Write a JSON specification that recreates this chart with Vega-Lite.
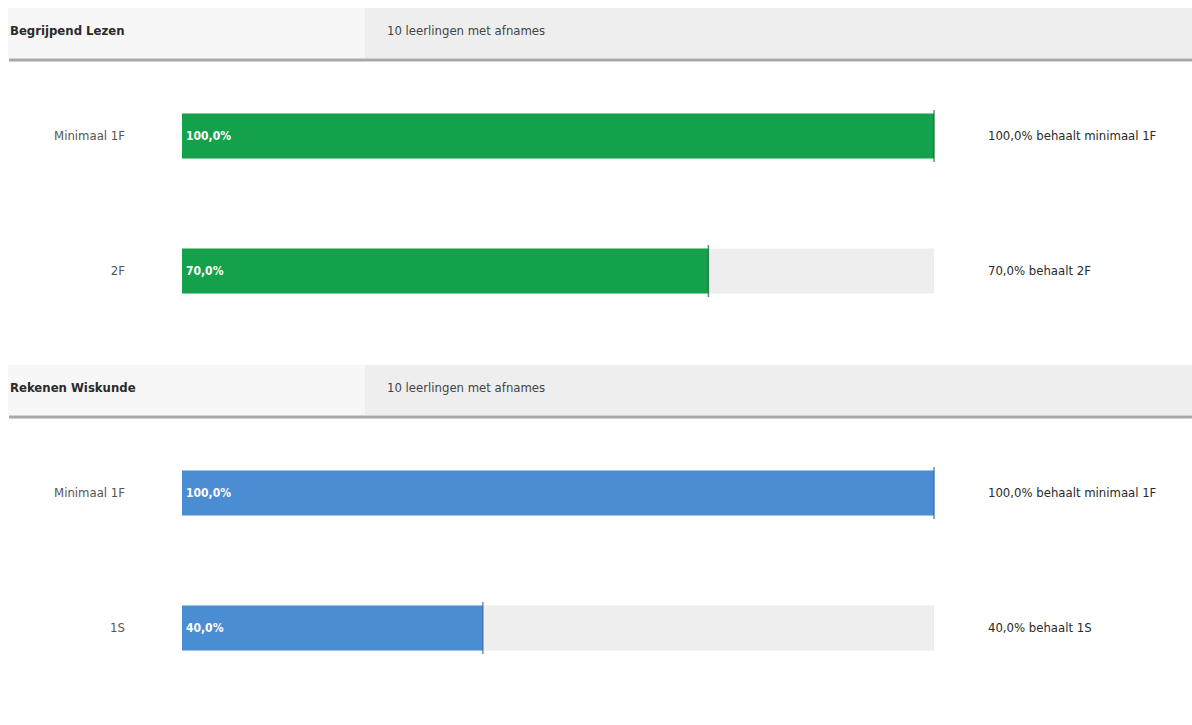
{
  "$schema": "https://vega.github.io/schema/vega-lite/v6.json",
  "autosize": {"type": "pad"},
  "padding": {"top": 8, "left": 0, "right": 0, "bottom": 0},
  "background": "#ffffff",
  "bounds": "flush",
  "spacing": 0,
  "resolve": {"scale": {"x": "independent", "y": "independent"}},
  "config": {
    "view": {"stroke": null},
    "font": "DejaVu Sans Condensed",
    "text": {"font": "DejaVu Sans Condensed"}
  },
  "vconcat": [
    {
      "width": 1192,
      "height": 50,
      "data": {"values": [{"section": "Begrijpend Lezen", "info": "10 leerlingen met afnames"}]},
      "encoding": {
        "y": {"field": "section", "type": "nominal", "axis": null, "scale": {"paddingInner": 0, "paddingOuter": 0}}
      },
      "layer": [
        {"mark": {"type": "rect", "color": "#f7f7f7"}, "encoding": {"x": {"datum": -23.14, "type": "quantitative", "scale": {"domain": [-24.2, 134.3], "nice": false, "zero": false}, "axis": null}, "x2": {"datum": 24.33}}},
        {"mark": {"type": "rect", "color": "#eeeeee"}, "encoding": {"x": {"datum": 24.33, "type": "quantitative"}, "x2": {"datum": 134.3}}},
        {"mark": {"type": "rule", "color": "#a8a8a8", "strokeWidth": 3, "yOffset": 2}, "encoding": {"x": {"datum": -23.0, "type": "quantitative"}, "x2": {"datum": 134.3}, "y": {"field": "section", "type": "nominal", "bandPosition": 1}}},
        {"mark": {"type": "text", "align": "left", "fontSize": 13, "fontWeight": "bold", "color": "#2a2a2a", "dy": -2}, "encoding": {"x": {"datum": -22.87, "type": "quantitative"}, "text": {"field": "section"}}},
        {"mark": {"type": "text", "align": "left", "fontSize": 13, "color": "#444444", "dy": -2}, "encoding": {"x": {"datum": 27.26, "type": "quantitative"}, "text": {"field": "info"}}}
      ]
    },
    {
      "width": 1192,
      "height": 307,
      "data": {"values": [
        {"level": "Minimaal 1F", "pct": 100, "label": "100,0%", "result": "100,0% behaalt minimaal 1F"},
        {"level": "2F", "pct": 70, "label": "70,0%", "result": "70,0% behaalt 2F"}
      ]},
      "encoding": {
        "y": {"field": "level", "type": "nominal", "axis": null, "sort": null,
              "scale": {"domain": ["Minimaal 1F", "2F"], "paddingInner": 0.6667, "paddingOuter": 0.4704, "align": 0.437}}
      },
      "layer": [
        {"mark": {"type": "bar", "color": "#eeeeee"}, "encoding": {"x": {"datum": 0, "type": "quantitative", "scale": {"domain": [-24.2, 134.3], "nice": false, "zero": false}, "axis": null}, "x2": {"datum": 100}}},
        {"mark": {"type": "bar", "color": "#14a14b"}, "encoding": {"x": {"field": "pct", "type": "quantitative"}, "x2": {"datum": 0}}},
        {"mark": {"type": "tick", "color": "#0d6a32", "thickness": 1.5, "size": 52, "orient": "vertical"}, "encoding": {"x": {"field": "pct", "type": "quantitative"}}},
        {"mark": {"type": "text", "align": "left", "dx": 4, "fontSize": 12, "fontWeight": "bold", "color": "#ffffff"}, "encoding": {"x": {"datum": 0, "type": "quantitative"}, "text": {"field": "label"}}},
        {"mark": {"type": "text", "align": "right", "fontSize": 13, "color": "#555555"}, "encoding": {"x": {"datum": -7.58, "type": "quantitative"}, "text": {"field": "level"}}},
        {"mark": {"type": "text", "align": "left", "fontSize": 13, "color": "#2a2a2a"}, "encoding": {"x": {"datum": 107.17, "type": "quantitative"}, "text": {"field": "result"}}}
      ]
    },
    {
      "width": 1192,
      "height": 50,
      "data": {"values": [{"section": "Rekenen Wiskunde", "info": "10 leerlingen met afnames"}]},
      "encoding": {
        "y": {"field": "section", "type": "nominal", "axis": null, "scale": {"paddingInner": 0, "paddingOuter": 0}}
      },
      "layer": [
        {"mark": {"type": "rect", "color": "#f7f7f7"}, "encoding": {"x": {"datum": -23.14, "type": "quantitative", "scale": {"domain": [-24.2, 134.3], "nice": false, "zero": false}, "axis": null}, "x2": {"datum": 24.33}}},
        {"mark": {"type": "rect", "color": "#eeeeee"}, "encoding": {"x": {"datum": 24.33, "type": "quantitative"}, "x2": {"datum": 134.3}}},
        {"mark": {"type": "rule", "color": "#a8a8a8", "strokeWidth": 3, "yOffset": 2}, "encoding": {"x": {"datum": -23.0, "type": "quantitative"}, "x2": {"datum": 134.3}, "y": {"field": "section", "type": "nominal", "bandPosition": 1}}},
        {"mark": {"type": "text", "align": "left", "fontSize": 13, "fontWeight": "bold", "color": "#2a2a2a", "dy": -2}, "encoding": {"x": {"datum": -22.87, "type": "quantitative"}, "text": {"field": "section"}}},
        {"mark": {"type": "text", "align": "left", "fontSize": 13, "color": "#444444", "dy": -2}, "encoding": {"x": {"datum": 27.26, "type": "quantitative"}, "text": {"field": "info"}}}
      ]
    },
    {
      "width": 1192,
      "height": 307,
      "data": {"values": [
        {"level": "Minimaal 1F", "pct": 100, "label": "100,0%", "result": "100,0% behaalt minimaal 1F"},
        {"level": "1S", "pct": 40, "label": "40,0%", "result": "40,0% behaalt 1S"}
      ]},
      "encoding": {
        "y": {"field": "level", "type": "nominal", "axis": null, "sort": null,
              "scale": {"domain": ["Minimaal 1F", "1S"], "paddingInner": 0.6667, "paddingOuter": 0.4704, "align": 0.437}}
      },
      "layer": [
        {"mark": {"type": "bar", "color": "#eeeeee"}, "encoding": {"x": {"datum": 0, "type": "quantitative", "scale": {"domain": [-24.2, 134.3], "nice": false, "zero": false}, "axis": null}, "x2": {"datum": 100}}},
        {"mark": {"type": "bar", "color": "#4a8dd3"}, "encoding": {"x": {"field": "pct", "type": "quantitative"}, "x2": {"datum": 0}}},
        {"mark": {"type": "tick", "color": "#2a5f95", "thickness": 1.5, "size": 52, "orient": "vertical"}, "encoding": {"x": {"field": "pct", "type": "quantitative"}}},
        {"mark": {"type": "text", "align": "left", "dx": 4, "fontSize": 12, "fontWeight": "bold", "color": "#ffffff"}, "encoding": {"x": {"datum": 0, "type": "quantitative"}, "text": {"field": "label"}}},
        {"mark": {"type": "text", "align": "right", "fontSize": 13, "color": "#555555"}, "encoding": {"x": {"datum": -7.58, "type": "quantitative"}, "text": {"field": "level"}}},
        {"mark": {"type": "text", "align": "left", "fontSize": 13, "color": "#2a2a2a"}, "encoding": {"x": {"datum": 107.17, "type": "quantitative"}, "text": {"field": "result"}}}
      ]
    }
  ]
}
